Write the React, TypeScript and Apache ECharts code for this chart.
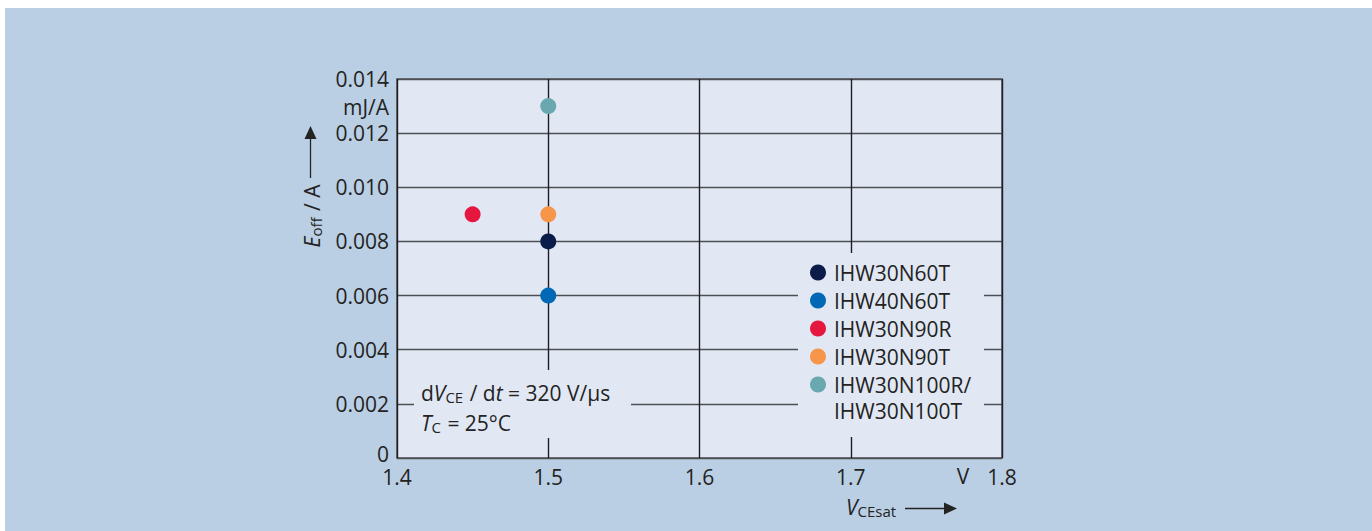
import React, { useEffect, useRef } from "react";
import * as echarts from "echarts";

const seriesNames = ["IHW30N60T", "IHW40N60T", "IHW30N90R", "IHW30N90T", "IHW30N100R/"];
const legendSecondLine = "IHW30N100T";
const vceSat = [1.5, 1.5, 1.45, 1.5, 1.5];
const eOff = [0.008, 0.006, 0.009, 0.009, 0.013];
const colors = ["#0b1c48", "#0068b4", "#e5173f", "#f7964b", "#68a8ae"];
const xTickLabels = ["1.4", "1.5", "1.6", "1.7", "1.8"];
const yTickLabels = ["0", "0.002", "0.004", "0.006", "0.008", "0.010", "0.012", "0.014"];

const FONT = "'Open Sans', 'DejaVu Sans', sans-serif";
const FS = 21;
const SUB = 15;
const TXT = "#232323";
const INNER = "#e1e8f4";
const LINE = "#4d4f55";

export default function App() {
  const ref = useRef<HTMLDivElement>(null);
  useEffect(() => {
    if (!ref.current) return;
    const chart = echarts.init(ref.current, undefined, { renderer: "svg" });
    const rich = {
      i: { fontStyle: "italic", fontSize: FS, fontFamily: FONT, fill: TXT },
      s: { fontSize: SUB, fontFamily: FONT, padding: [8, 1, 0, 0], fill: TXT },
    };
    const option: any = {
      animation: false,
      backgroundColor: "transparent",
      textStyle: { fontFamily: FONT },
      grid: {
        left: 397,
        top: 79,
        width: 605,
        height: 379,
        show: true,
        backgroundColor: INNER,
        borderColor: LINE,
        borderWidth: 1.5,
        outerBoundsMode: "none",
      },
      xAxis: {
        type: "value",
        min: 1.4,
        max: 1.8,
        interval: 0.1,
        axisLine: { show: false },
        axisTick: { show: false },
        splitLine: { show: true, lineStyle: { color: "#1e1e22", width: 1.4 } },
        axisLabel: {
          color: TXT,
          fontSize: FS,
          fontFamily: FONT,
          lineHeight: 16,
          margin: 11,
          formatter: (v: number) => xTickLabels[Math.round((v - 1.4) / 0.1)] ?? "",
        },
      },
      yAxis: {
        type: "value",
        min: 0,
        max: 0.014,
        interval: 0.002,
        axisLine: { show: false },
        axisTick: { show: false },
        splitLine: { show: true, lineStyle: { color: LINE, width: 1.4 } },
        axisLabel: {
          color: TXT,
          fontSize: FS,
          fontFamily: FONT,
          lineHeight: 16,
          margin: 8,
          formatter: (v: number) => {
            const idx = Math.round(v / 0.002);
            const t = yTickLabels[idx] ?? "";
            return idx === 0 ? `{z|${t}}` : t;
          },
          rich: {
            z: { fontSize: FS, fontFamily: FONT, color: TXT, lineHeight: 16, padding: [0, 0, 9, 0] },
          },
        },
      },
      legend: {
        orient: "vertical",
        left: 810,
        top: 262,
        padding: 0,
        itemWidth: 16,
        itemHeight: 16,
        itemGap: 7,
        icon: "circle",
        selectedMode: false,
        data: seriesNames,
        textStyle: { color: TXT, fontSize: FS, fontFamily: FONT, lineHeight: 21, padding: [0, 0, 0, 3] },
      },
      series: seriesNames.map((name, i) => ({
        name,
        type: "scatter",
        symbol: "circle",
        symbolSize: 16,
        itemStyle: { color: colors[i], opacity: 1 },
        data: [[vceSat[i], eOff[i]]],
      })),
      graphic: {
        elements: [
          { type: "rect", z: 1, shape: { x: 798, y: 253, width: 186, height: 184 }, style: { fill: INNER } },
          { type: "rect", z: 1, shape: { x: 414, y: 370, width: 217, height: 68 }, style: { fill: INNER } },
          {
            type: "text", z: 5, x: 834, y: 411,
            style: { text: legendSecondLine, fill: TXT, font: `${FS}px ${FONT}`, textAlign: "left", textVerticalAlign: "middle" },
          },
          {
            type: "text", z: 5, x: 389, y: 107,
            style: { text: "mJ/A", fill: TXT, font: `${FS}px ${FONT}`, textAlign: "right", textVerticalAlign: "middle" },
          },
          {
            type: "text", z: 5, x: 963, y: 476,
            style: { text: "V", fill: TXT, font: `${FS}px ${FONT}`, textAlign: "center", textVerticalAlign: "middle" },
          },
          {
            type: "text", z: 5, x: 421, y: 393,
            style: {
              text: "d{i|V}{s|CE} / d{i|t} = 320 V/µs",
              fill: TXT, fontSize: FS, fontFamily: FONT,
              textAlign: "left", textVerticalAlign: "middle",
              rich,
            },
          },
          {
            type: "text", z: 5, x: 421, y: 423,
            style: {
              text: "{i|T}{s|C} = 25°C",
              fill: TXT, fontSize: FS, fontFamily: FONT,
              textAlign: "left", textVerticalAlign: "middle",
              rich,
            },
          },
          {
            type: "text", z: 5, x: 312, y: 216, rotation: Math.PI / 2,
            style: {
              text: "{i|E}{s|off} / A",
              fill: TXT, fontSize: FS, fontFamily: FONT,
              textAlign: "center", textVerticalAlign: "middle",
              rich,
            },
          },
          { type: "line", z: 5, shape: { x1: 310.5, y1: 178, x2: 310.5, y2: 138 }, style: { stroke: TXT, lineWidth: 1.3 } },
          { type: "polygon", z: 5, shape: { points: [[310.5, 126], [304.5, 139], [316.5, 139]] }, style: { fill: TXT } },
          {
            type: "text", z: 5, x: 846, y: 507,
            style: {
              text: "{i|V}{s|CEsat}",
              fill: TXT, fontSize: FS, fontFamily: FONT,
              textAlign: "left", textVerticalAlign: "middle",
              rich,
            },
          },
          { type: "line", z: 5, shape: { x1: 905, y1: 508.5, x2: 945, y2: 508.5 }, style: { stroke: TXT, lineWidth: 1.3 } },
          { type: "polygon", z: 5, shape: { points: [[957, 508.5], [944, 502.5], [944, 514.5]] }, style: { fill: TXT } },
        ],
      },
    };
    chart.setOption(option);
    return () => chart.dispose();
  }, []);

  return (
    <div style={{ position: "fixed", left: 0, top: 0, width: 1372, height: 531, background: "#ffffff" }}>
      <div style={{ position: "absolute", left: 5, top: 8, width: 1367, height: 523, background: "#bacfe3" }} />
      <div ref={ref} style={{ position: "absolute", left: 0, top: 0, width: 1372, height: 531 }} />
    </div>
  );
}
